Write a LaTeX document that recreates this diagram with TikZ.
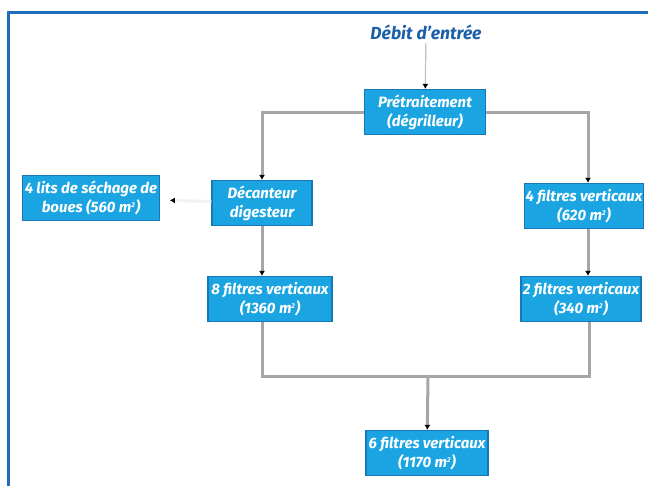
\documentclass[tikz,border=0pt]{standalone}
\usepackage{fontspec}
\setsansfont{Fira Sans}
\usepackage{tikz}
\usetikzlibrary{positioning,arrows.meta,shapes}
\definecolor{boxblue}{HTML}{1AA5E2}
\definecolor{boxedge}{HTML}{1877B5}
\definecolor{framblue}{HTML}{1E6EBB}
\definecolor{titleblue}{HTML}{1B5FA8}
\newcommand{\msq}{m\textsuperscript{\scriptsize 2}}

\begin{document}
\begin{tikzpicture}
            [x=1pt, y=-1pt, font=\sffamily\bfseries\itshape\fontsize{15}{19}\selectfont,
            % every node/.style={top color=white, bottom color=black!20,
            % thick, drop shadow, align=center},
            stage/.style={fill=boxblue, draw=boxedge, line width=1.2pt, text=white,
                align=center, inner sep=1pt, minimum height=45pt},
            flow/.style={draw=black!35, line width=3pt},
            flowarrow/.style={flow, -{Latex[length=5pt, width=6pt, black]}}]
            \useasboundingbox (0,0) rectangle (648,485);
            \draw [framblue, line width=3pt] (8,12) rectangle (660,495);
            \node [text=titleblue, font=\sffamily\bfseries\itshape\fontsize{17.5}{20}\selectfont] (debit) at (426,32) {Débit d’entrée};
            \node [stage, minimum width=121pt] (pretrait) at (425,112) {Prétraitement\\(dégrilleur)};
            \node [stage, minimum width=100pt] (decanteur) at (262,203) {Décanteur\\digesteur};
            \node [stage, minimum width=134pt, inner sep=2pt] (lits) at (91,198) {4 lits de séchage de\\boues (560 \msq)};
            \node [stage, minimum width=119pt] (filtres620) at (584,206) {4 filtres verticaux\\(620 \msq)};
            \node [stage, minimum width=124pt] (filtres1360) at (270,299) {8 filtres verticaux\\(1360 \msq)};
            \node [stage, minimum width=120pt] (filtres340) at (581,299) {2 filtres verticaux\\(340 \msq)};
            \node [stage, minimum width=122pt] (filtres1170) at (427,453) {6 filtres verticaux\\(1170 \msq)};
            \coordinate (merge) at (428,376);
            % arrivee
            \draw [flowarrow, draw=black!25, line width=1.2pt] (debit) -- (pretrait);
            % deux files
            \draw [flowarrow] (pretrait) -| (decanteur);
            \draw [flowarrow] (pretrait) -| ([xshift=4pt]filtres620.north);
            \draw [flowarrow] (decanteur) -- (decanteur |- filtres1360.north);
            \draw [flowarrow] ([xshift=4pt]filtres620.south) -- ([xshift=4pt]filtres620.south |- filtres340.north);
            \draw [flowarrow, draw=black!5, shorten >=10pt] (decanteur) -- (lits);
            % reprise
            \draw [flow] (decanteur |- filtres1360.south) |- (merge) -| ([xshift=8pt]filtres340.south);
            \draw [flowarrow] (merge) -- (filtres1170);
            \end{tikzpicture}
\end{document}
